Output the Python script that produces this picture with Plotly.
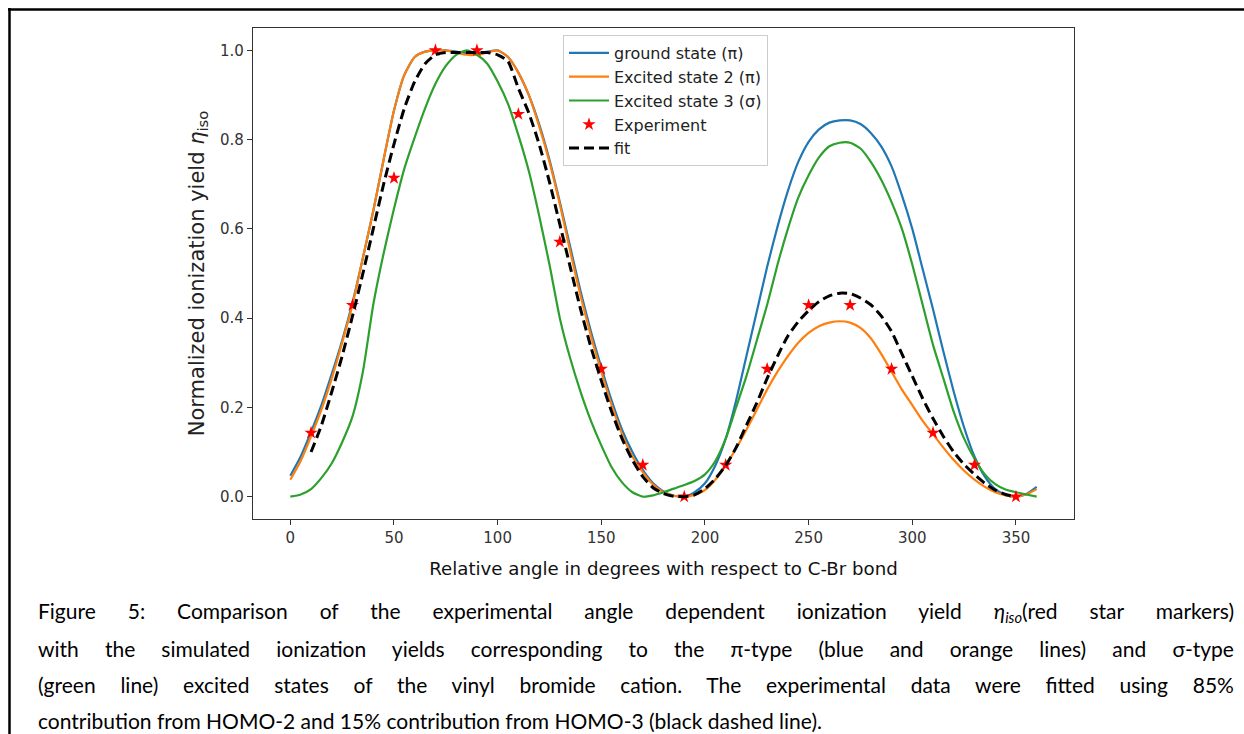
import plotly.graph_objects as go

# ---------------- data ----------------
angle = list(range(0, 365, 5))

ground_state = [0.047, 0.09, 0.145, 0.205, 0.275, 0.35, 0.435, 0.535, 0.64, 0.755,
                0.865, 0.945, 0.985, 0.997, 1.0, 1.0, 0.997, 0.993, 0.993, 0.997,
                1.0, 0.985, 0.95, 0.90, 0.835, 0.755, 0.66, 0.56, 0.46, 0.37,
                0.29, 0.215, 0.15, 0.10, 0.06, 0.03, 0.012, 0.002, 0.0, 0.01,
                0.03, 0.07, 0.13, 0.215, 0.315, 0.415, 0.515, 0.605, 0.685, 0.75,
                0.795, 0.823, 0.838, 0.843, 0.843, 0.835, 0.815, 0.785, 0.74, 0.675,
                0.60, 0.51, 0.42, 0.325, 0.235, 0.155, 0.09, 0.045, 0.017, 0.004,
                0.0, 0.006, 0.022]

excited_2 = [0.038, 0.08, 0.135, 0.195, 0.265, 0.345, 0.43, 0.535, 0.64, 0.755,
             0.865, 0.945, 0.985, 0.997, 1.0, 1.0, 0.995, 0.99, 0.99, 0.995,
             1.0, 0.985, 0.95, 0.90, 0.83, 0.75, 0.655, 0.55, 0.45, 0.36,
             0.28, 0.205, 0.14, 0.09, 0.055, 0.027, 0.01, 0.002, 0.0, 0.004,
             0.015, 0.038, 0.07, 0.108, 0.15, 0.195, 0.24, 0.28, 0.315, 0.345,
             0.367, 0.382, 0.39, 0.393, 0.39, 0.378, 0.355, 0.32, 0.28, 0.24,
             0.205, 0.17, 0.14, 0.11, 0.082, 0.058, 0.038, 0.022, 0.01, 0.003,
             0.0, 0.005, 0.017]

excited_3 = [0.0, 0.005, 0.017, 0.042, 0.075, 0.122, 0.18, 0.28, 0.43, 0.545,
             0.645, 0.735, 0.805, 0.87, 0.925, 0.965, 0.99, 1.0, 0.99, 0.97,
             0.93, 0.88, 0.81, 0.73, 0.63, 0.52, 0.40, 0.31, 0.235, 0.17,
             0.115, 0.066, 0.032, 0.01, 0.0, 0.003, 0.01, 0.018, 0.026, 0.035,
             0.05, 0.08, 0.13, 0.20, 0.27, 0.35, 0.43, 0.52, 0.60, 0.67,
             0.72, 0.76, 0.785, 0.793, 0.793, 0.78, 0.75, 0.71, 0.66, 0.60,
             0.52, 0.43, 0.34, 0.265, 0.19, 0.13, 0.085, 0.05, 0.028, 0.016,
             0.01, 0.005, 0.0]

fit_angle = list(range(10, 355, 5))
fit_values = [0.10, 0.16, 0.235, 0.315, 0.405, 0.50, 0.60, 0.70, 0.79, 0.87,
              0.93, 0.97, 0.99, 0.995, 0.995, 0.995, 0.995, 0.995, 0.99, 0.975,
              0.915, 0.86, 0.79, 0.705, 0.61, 0.515, 0.42, 0.335, 0.26, 0.19,
              0.13, 0.082, 0.045, 0.02, 0.007, 0.001, 0.0, 0.004, 0.018, 0.04,
              0.07, 0.11, 0.16, 0.21, 0.265, 0.315, 0.36, 0.392, 0.417, 0.437,
              0.45, 0.456, 0.455, 0.445, 0.43, 0.405, 0.37, 0.32, 0.27, 0.22,
              0.175, 0.135, 0.10, 0.072, 0.05, 0.03, 0.015, 0.005, 0.0]

exp_angle = [10, 30, 50, 70, 90, 110, 130, 150, 170, 190, 210, 230, 250, 270, 290, 310, 330, 350]
exp_values = [0.143, 0.429, 0.714, 1.0, 1.0, 0.857, 0.571, 0.286, 0.071, 0.0,
              0.071, 0.286, 0.429, 0.429, 0.286, 0.143, 0.071, 0.0]

x_ticks = [0, 50, 100, 150, 200, 250, 300, 350]
y_ticks = [0.0, 0.2, 0.4, 0.6, 0.8, 1.0]
y_tick_labels = ["0.0", "0.2", "0.4", "0.6", "0.8", "1.0"]

SUB = '<span style="font-size:70%;baseline-shift:-25%">{}</span>'
x_title = "Relative angle in degrees with respect to C-Br bond"
y_title = "Normalized ionization yield <i>η</i>" + SUB.format("iso")

caption_lines = [
    "Figure 5: Comparison of the experimental angle dependent ionization yield <i>η</i>"
    + SUB.format("<i>iso</i>") + "(red star markers)",
    "with the simulated ionization yields corresponding to the π-type (blue and orange lines) and σ-type",
    "(green line) excited states of the vinyl bromide cation. The experimental data were fitted using 85%",
    "contribution from HOMO-2 and 15% contribution from HOMO-3 (black dashed line).",
]

# ---------------- figure ----------------
W, H = 1244, 734
L, R, T, B = 253, 170, 28, 215
pw, ph = W - L - R, H - T - B


def px(xp):
    return (xp - L) / pw


def py(yp):
    return (H - B - yp) / ph


fig = go.Figure()
fig.add_trace(go.Scatter(x=angle, y=ground_state, mode="lines", name="ground state (π)",
                         line=dict(color="#1f77b4", width=2.2, shape="spline", smoothing=0.6)))
fig.add_trace(go.Scatter(x=angle, y=excited_2, mode="lines", name="Excited state 2 (π)",
                         line=dict(color="#ff7f0e", width=2.2, shape="spline", smoothing=0.6)))
fig.add_trace(go.Scatter(x=angle, y=excited_3, mode="lines", name="Excited state 3 (σ)",
                         line=dict(color="#2ca02c", width=2.2, shape="spline", smoothing=0.6)))
fig.add_trace(go.Scatter(x=exp_angle, y=exp_values, mode="markers", name="Experiment",
                         marker=dict(symbol="star", size=10, color="#ff0000", line=dict(width=0))))
fig.add_trace(go.Scatter(x=fit_angle, y=fit_values, mode="lines", name="fit",
                         line=dict(color="black", width=3, dash="10px,5px", shape="spline", smoothing=0.6)))

axis_common = dict(showline=True, linecolor="#333333", linewidth=1.2, mirror=True,
                   ticks="outside", ticklen=5, tickwidth=1.2, tickcolor="#333333",
                   showgrid=False, zeroline=False,
                   tickfont=dict(family="DejaVu Sans", size=15, color="#333333"))

fig.update_xaxes(range=[-18, 378], tickvals=x_ticks,
                 title=dict(text=x_title, standoff=16,
                            font=dict(family="DejaVu Sans", size=18.2, color="#111111")),
                 **axis_common)
fig.update_yaxes(range=[-0.05, 1.05], tickvals=y_ticks, ticktext=y_tick_labels,
                 title=dict(text=y_title, standoff=9,
                            font=dict(family="DejaVu Sans", size=21, color="#222222")),
                 **axis_common)

annotations = []
for i, line in enumerate(caption_lines):
    annotations.append(dict(text=line, x=px(36), y=py(612 + 36 * i), xref="paper", yref="paper",
                            xanchor="left", yanchor="middle", showarrow=False, align="left",
                            font=dict(family="Lato", size=21, color="#000000")))

shapes = [
    dict(type="line", xref="paper", yref="paper", x0=px(8), x1=px(W), y0=py(9.5), y1=py(9.5),
         line=dict(color="black", width=2.5)),
    dict(type="line", xref="paper", yref="paper", x0=px(9.5), x1=px(9.5), y0=py(8), y1=py(H),
         line=dict(color="black", width=2.5)),
]

fig.update_layout(
    width=W, height=H, autosize=False,
    margin=dict(l=L, r=R, t=T, b=B),
    paper_bgcolor="white", plot_bgcolor="white",
    showlegend=True,
    legend=dict(x=px(563), y=py(35), xanchor="left", yanchor="top",
                bgcolor="rgba(255,255,255,0.9)", bordercolor="#cccccc", borderwidth=1,
                font=dict(family="DejaVu Sans", size=16, color="#222222"),
                itemwidth=40, tracegroupgap=0),
    annotations=annotations,
    shapes=shapes,
)

# justify the first three caption lines (full-justified paragraph in the reference)
justify_js = """
(function(){
  var gd = document.getElementById('{plot_id}');
  if (!gd) return;
  var target = 1196;
  var starts = ['Figure 5:', 'with the simulated', '(green line)'];
  gd.querySelectorAll('text.annotation-text').forEach(function(t){
    var s = t.textContent || '';
    var hit = starts.some(function(p){ return s.indexOf(p) === 0; });
    if (!hit) return;
    var n = (s.match(/ /g) || []).length;
    var cur = t.getComputedTextLength();
    if (n > 0 && cur > 0 && cur < target) {
      t.setAttribute('word-spacing', ((target - cur) / n).toFixed(2) + 'px');
    }
  });
})();
"""

fig.write_html("out.html", post_script=justify_js, config={"displayModeBar": False})
